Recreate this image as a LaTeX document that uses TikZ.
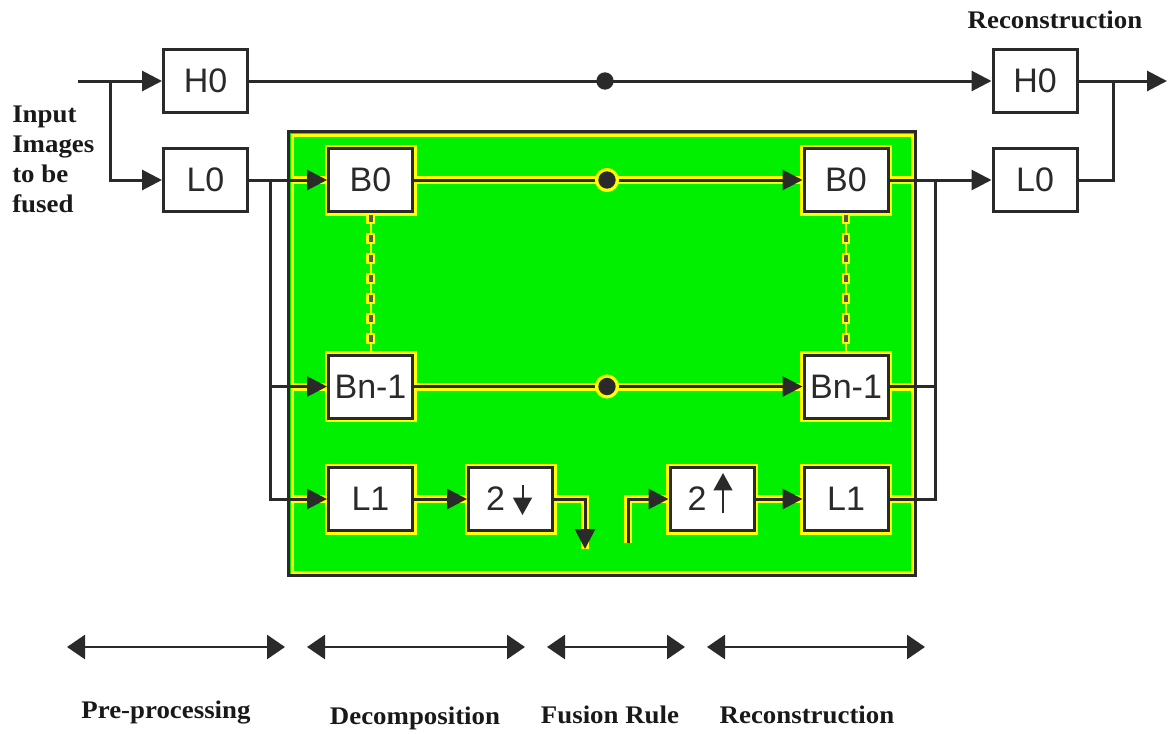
\documentclass[tikz,border=0pt]{standalone}
\usepackage{fontspec}
\setmainfont{Liberation Serif}
\newfontfamily\boxfont{Liberation Sans}
\newfontfamily\labfont[FakeStretch=1.06]{Liberation Serif}
\usetikzlibrary{arrows.meta,calc}
\definecolor{lc}{HTML}{2A2A2A}
\definecolor{grn}{HTML}{00F000}
\definecolor{ylw}{HTML}{FFFF00}
\begin{document}
\begin{tikzpicture}[x=0.75pt,y=-0.75pt,
  box/.style={draw=lc, line width=2.25pt, fill=white, minimum width=63pt, minimum height=47.25pt, inner sep=0pt, font=\boxfont\fontsize{25.5}{30}\selectfont, text=lc},
  inbox/.style={box, preaction={draw=ylw, line width=6pt}},
  ln/.style={draw=lc, line width=2.25pt},
  arr/.style={ln, -{Triangle[length=15pt,width=15pt]}},
  hl/.style={preaction={draw=ylw, line width=6pt, -}},
  halo/.style={draw=ylw, line width=6pt},
  dot/.style={circle, fill=lc, draw=none, inner sep=0pt, minimum size=13pt},
  indot/.style={dot, preaction={draw=ylw, line width=5pt}},
  dotly/.style={draw=ylw, line width=1.5pt},
  dotlh/.style={draw=ylw, line width=6.5pt, dash pattern=on 8pt off 7pt},
  dotlg/.style={draw=lc!80, line width=3pt, dash pattern=on 5pt off 10pt, dash phase=13.5pt},
  glyph/.style={draw=lc, line width=1.5pt, -{Triangle[length=13pt,width=14pt]}},
  dbl/.style={draw=lc, line width=2pt, {Triangle[length=13.5pt,width=18pt]}-{Triangle[length=13.5pt,width=18pt]}},
  lab/.style={font=\labfont\bfseries\fontsize{19}{22.5}\selectfont, text=black!90},
]
\useasboundingbox (0,0) rectangle (1168,733);

% green region
\node[draw=lc, fill=grn, line width=2.25pt, minimum width=470.25pt, minimum height=333pt, inner sep=0pt] (grp) at (602,353.5) {};
\draw[ylw, line width=2.25pt] ($(grp.north west)+(5,5)$) rectangle ($(grp.south east)+(-5,-5)$);

% boxes
\node[box] (H0a) at (205.5,81) {H0};
\node[box] (L0a) at (205.5,180) {L0};
\node[inbox] (B0a) at (370.5,180) {B0};
\node[inbox] (Bna) at (370.5,386.5) {Bn-1};
\node[inbox] (L1a) at (370.5,499) {L1};
\node[inbox] (Da) at (510.5,499) {2\kern22.5pt};
\node[inbox] (Ub) at (712,499) {2\kern22.5pt};
\node[inbox] (L1b) at (846,499) {L1};
\node[inbox] (Bnb) at (846,386.5) {Bn-1};
\node[inbox] (B0b) at (846,180) {B0};
\node[box] (H0b) at (1035,81) {H0};
\node[box] (L0b) at (1035,180) {L0};

% arrows inside the 2 boxes
\draw[glyph] ($(Da.center)+(12,-14)$) -- ($(Da.center)+(12,16)$);
\draw[glyph] ($(Ub.center)+(11,14)$) -- ($(Ub.center)+(11,-26)$);

% coordinates
\coordinate (in) at (78,81);
\coordinate (s1) at (110,81);
\coordinate (s2) at (270,180);
\coordinate (s3) at (935,180);
\coordinate (s4) at (1113,81);
\coordinate (out) at (1167,81);
\coordinate (dn) at (585,549);
\coordinate (up) at (628,543);

% halos where lines cross the green border
\foreach \n in {B0a,Bna,L1a} \draw[halo] ($(grp.west |- \n)+(4,0)$) -- (\n.west);
\foreach \n in {B0b,Bnb,L1b} \draw[halo] (\n.east) -- ($(grp.east |- \n)+(-4,0)$);

% dotted links
\foreach \a/\b in {B0a/Bna, B0b/Bnb} {
  \draw[dotly] (\a) -- (\b);
  \draw[dotlh] (\a) -- (\b);
  \draw[dotlg] (\a) -- (\b);
}

% connectors
\draw[arr] (in) -- (H0a);
\draw[arr] (s1) |- (L0a);
\draw[arr] (H0a) -- (H0b);
\draw[ln] (L0a) -- (s2);
\draw[arr] (s2) -- (B0a);
\draw[arr] (s2) |- (L1a);
\draw[arr] (s2 |- Bna) -- (Bna);
\draw[arr,hl] (B0a) -- (B0b);
\draw[arr,hl] (Bna) -- (Bnb);
\draw[arr,hl] (L1a) -- (Da);
\draw[arr,hl] (Da) -| (dn);
\draw[arr,hl] (up) |- (Ub);
\draw[arr,hl] (Ub) -- (L1b);
\draw[arr] (B0b) -- (L0b);
\draw[ln] (L1b) -| (s3);
\draw[ln] (Bnb) -- (s3 |- Bnb);
\draw[arr] (H0b) -- (out);
\draw[ln] (L0b) -| (s4);

% junction dots
\node[dot] (d1) at (605,81) {};
\node[indot] (d2) at (607,180) {};
\node[indot] (d3) at (607,386.5) {};

% stage arrows
\coordinate (p1) at (67,647);  \coordinate (p2) at (285,647);
\coordinate (q1) at (307,647); \coordinate (q2) at (525,647);
\coordinate (r1) at (547,647); \coordinate (r2) at (685,647);
\coordinate (t1) at (707,647); \coordinate (t2) at (925,647);
\draw[dbl] (p1) -- (p2);
\draw[dbl] (q1) -- (q2);
\draw[dbl] (r1) -- (r2);
\draw[dbl] (t1) -- (t2);

% labels
\node[lab, anchor=north west, align=left, inner sep=0pt] (inp) at (12,106) {Input\\Images\\to be\\fused};
\node[lab, anchor=base] (rtop) at (1055,28) {Reconstruction};
\node[lab, anchor=base] (lpre) at (166,718) {Pre-processing};
\node[lab, anchor=base] (ldec) at (415,724) {Decomposition};
\node[lab, anchor=base] (lfus) at (610,723) {Fusion Rule};
\node[lab, anchor=base] (lrec) at (807,723) {Reconstruction};
\end{tikzpicture}
\end{document}
